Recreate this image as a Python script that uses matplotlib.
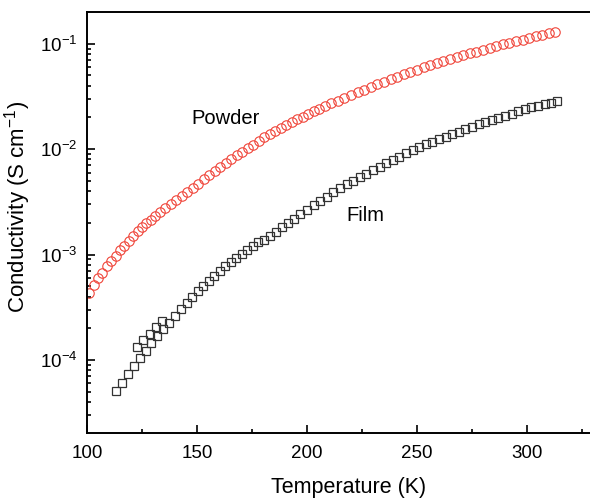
import numpy as np
import matplotlib
matplotlib.use('Agg')
import matplotlib.pyplot as plt
from matplotlib.ticker import LogLocator, FixedLocator, NullFormatter

plt.rcParams['font.family'] = ['Liberation Sans', 'DejaVu Sans']
plt.rcParams['mathtext.fontset'] = 'custom'
plt.rcParams['mathtext.rm'] = 'Liberation Sans'
plt.rcParams['mathtext.it'] = 'Liberation Sans:italic'

# powder sample, temperature (K) and log10 conductivity (S/cm)
powder_T = [101, 103, 105, 107, 109, 111, 113, 115, 117, 119, 121, 123, 125, 127, 129,
            131, 133, 135.5, 138, 140.5, 143, 145.5, 148, 150.5, 153, 155.5, 158, 160.5,
            163, 165.5, 168, 170.5, 173, 175.5, 178, 180.5, 183, 185.5, 188, 190.5, 193,
            195.5, 198, 200.5, 203, 205.5, 208, 211, 214, 217, 220, 223, 226, 229, 232,
            235, 238, 241, 244, 247, 250, 253, 256, 259, 262, 265, 268, 271, 274, 277,
            280, 283, 286, 289, 292, 295, 298, 301, 304, 307, 310, 312.5]
powder_logsig = [-3.36, -3.29, -3.225, -3.17, -3.11, -3.06, -3.01, -2.96, -2.915, -2.867,
                 -2.823, -2.78, -2.74, -2.704, -2.668, -2.633, -2.599, -2.557, -2.517,
                 -2.478, -2.44, -2.403, -2.365, -2.327, -2.287, -2.247, -2.207, -2.168,
                 -2.131, -2.095, -2.059, -2.023, -1.99, -1.956, -1.922, -1.889, -1.859,
                 -1.829, -1.799, -1.77, -1.743, -1.717, -1.691, -1.665, -1.641, -1.618,
                 -1.594, -1.566, -1.539, -1.512, -1.485, -1.459, -1.434, -1.408, -1.384,
                 -1.36, -1.336, -1.313, -1.29, -1.268, -1.245, -1.225, -1.204, -1.184,
                 -1.165, -1.146, -1.127, -1.109, -1.091, -1.074, -1.056, -1.04, -1.023,
                 -1.007, -0.991, -0.975, -0.96, -0.945, -0.93, -0.916, -0.901, -0.89]

# film sample (includes the overlapping points of the second sweep near 125-135 K)
film_T = [113.2, 115.9, 118.6, 121.2, 124.0, 126.6, 129.3, 132.0, 134.7, 137.4, 140.0,
          122.8, 125.6, 128.4, 131.3, 134.0,
          142.7, 145.3, 147.8, 150.4, 152.9, 155.4, 157.9, 160.4, 162.9, 165.4, 167.9,
          170.4, 172.9, 175.4, 177.9, 180.4, 183.1, 185.8, 188.5, 191.2, 194, 197, 200,
          203, 206, 209, 212, 215, 218, 221, 224, 227, 230, 233, 236, 239, 242, 245, 248,
          251, 254, 257, 260, 263, 266, 269, 272, 275, 278, 281, 284, 287, 290, 293, 296,
          299, 302, 305, 308, 311, 313.5]
film_logsig = [-4.295, -4.215, -4.135, -4.06, -3.985, -3.91, -3.84, -3.775, -3.71, -3.645,
               -3.58,
               -3.88, -3.815, -3.75, -3.69, -3.63,
               -3.515, -3.455, -3.40, -3.35, -3.30, -3.25, -3.20, -3.155, -3.11, -3.07,
               -3.03, -2.99, -2.955, -2.92, -2.885, -2.864, -2.823, -2.782, -2.742, -2.703,
               -2.662, -2.618, -2.575, -2.533, -2.491, -2.449, -2.409, -2.37, -2.331, -2.30,
               -2.265, -2.232, -2.20, -2.167, -2.134, -2.101, -2.07, -2.04, -2.01, -1.981,
               -1.955, -1.929, -1.905, -1.881, -1.857, -1.833, -1.81, -1.788, -1.765,
               -1.743, -1.723, -1.703, -1.683, -1.665, -1.64, -1.62, -1.603, -1.587, -1.572,
               -1.558, -1.545]

x_ticks = [100, 150, 200, 250, 300]
y_decades = [1e-4, 1e-3, 1e-2, 1e-1]
y_ticklabels = ['$10^{-4}$', '$10^{-3}$', '$10^{-2}$', '$10^{-1}$']

powder_sig = 10 ** np.array(powder_logsig)
film_sig = 10 ** np.array(film_logsig)

fig = plt.figure(figsize=(5.9, 5.0), dpi=100)
ax = fig.add_axes([0.1475, 0.134, 0.8525, 0.8415])

ax.plot(powder_T, powder_sig, 'o', ms=6.8, mfc='none', mec='#f0453a', mew=0.8)
ax.plot(film_T, film_sig, 's', ms=6.3, mfc='none', mec='#333333', mew=0.9)

ax.set_yscale('log')
ax.set_xlim(100, 328.6)
ax.set_ylim(2.03e-5, 0.199)

ax.xaxis.set_major_locator(FixedLocator(x_ticks))
ax.xaxis.set_minor_locator(FixedLocator([125, 175, 225, 275, 325]))
ax.yaxis.set_major_locator(FixedLocator(y_decades))
ax.set_yticklabels(y_ticklabels)
ax.yaxis.set_minor_locator(LogLocator(base=10, subs=np.arange(2, 10), numticks=20))
ax.yaxis.set_minor_formatter(NullFormatter())

ax.tick_params(which='both', direction='in', top=False, right=False, labelsize=13.5,
               width=1.2)
ax.tick_params(axis='x', pad=9)
ax.tick_params(axis='y', pad=7)
ax.tick_params(which='major', length=6)
ax.tick_params(which='minor', length=3)

for side in ['left', 'top', 'bottom']:
    ax.spines[side].set_linewidth(1.4)
ax.spines['right'].set_visible(False)

ax.set_xlabel('Temperature (K)', fontsize=15.5)
ax.set_ylabel('Conductivity (S cm$^{-1}$)', fontsize=16)
ax.xaxis.set_label_coords(0.519, -0.105)
ax.yaxis.set_label_coords(-0.108, 0.537)

ax.text(163, 0.0197, 'Powder', fontsize=14.5, ha='center', va='center')
ax.text(226.4, 0.00236, 'Film', fontsize=14.5, ha='center', va='center')

fig.savefig('out.png', dpi=100)
